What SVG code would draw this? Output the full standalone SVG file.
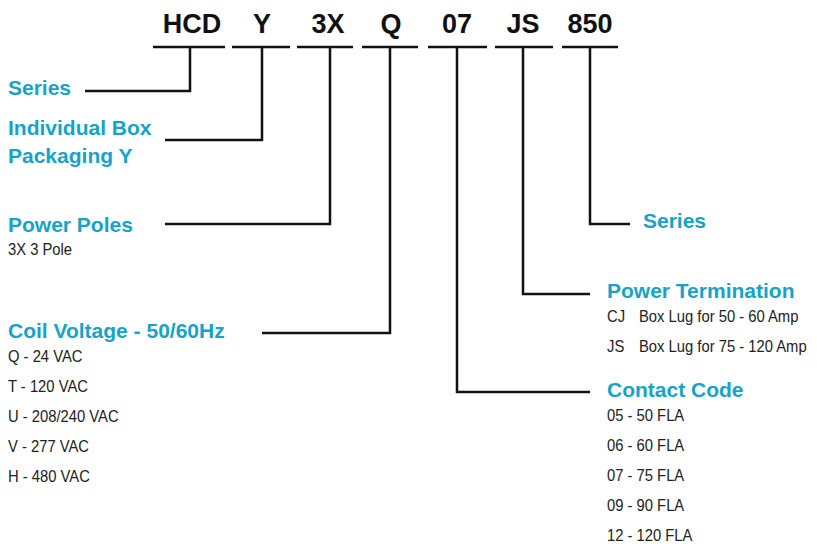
<svg xmlns="http://www.w3.org/2000/svg" width="817" height="544" viewBox="0 0 817 544">
<style>
.code{font-family:"Liberation Sans",Arial,sans-serif;font-weight:bold;font-size:27px;fill:#111;text-anchor:middle}
.head{font-family:"Liberation Sans",Arial,sans-serif;font-weight:bold;font-size:21px;fill:#16a3c9}
.item{font-family:"Liberation Sans",Arial,sans-serif;font-size:17px;fill:#222}
.ln{stroke:#111;stroke-width:2.5;fill:none}
</style>
<rect width="817" height="544" fill="#fff"/>
<g id="codes">
<text class="code" x="192" y="33">HCD</text>
<text class="code" x="262" y="33">Y</text>
<text class="code" x="328" y="33">3X</text>
<text class="code" x="391" y="33">Q</text>
<text class="code" x="457" y="33">07</text>
<text class="code" x="523" y="33">JS</text>
<text class="code" x="590" y="33">850</text>
</g>
<g id="connectors" class="ln">
<path d="M153 47H225M232 47H290M297 47H353M362 47H418M428 47H487M495 47H553M562 47H618"/>
<polyline points="85,91 190,91 190,47"/>
<polyline points="165,140 262,140 262,47"/>
<polyline points="165,224 330,224 330,47"/>
<polyline points="262,333 390,333 390,47"/>
<polyline points="630,224 590,224 590,47"/>
<polyline points="590,294 523,294 523,47"/>
<polyline points="590,392 457,392 457,47"/>
</g>
<g id="node-series">
<text class="head" x="8" y="95">Series</text>
</g>
<g id="node-packaging">
<text class="head" x="8" y="135">Individual Box</text>
<text class="head" x="8" y="163">Packaging Y</text>
</g>
<g id="node-poles">
<text class="head" x="8" y="232">Power Poles</text>
<g transform="translate(8 255) scale(0.87 1)"><text class="item">3X 3 Pole</text></g>
</g>
<g id="node-coil">
<text class="head" x="8" y="338">Coil Voltage - 50/60Hz</text>
<g transform="translate(8 0) scale(0.87 1)">
<text class="item" y="362">Q - 24 VAC</text>
<text class="item" y="392">T - 120 VAC</text>
<text class="item" y="422">U - 208/240 VAC</text>
<text class="item" y="452">V - 277 VAC</text>
<text class="item" y="482">H - 480 VAC</text>
</g>
</g>
<g id="node-series2">
<text class="head" x="643" y="228">Series</text>
</g>
<g id="node-termination">
<text class="head" x="607" y="298">Power Termination</text>
<g transform="translate(607 0) scale(0.87 1)">
<text class="item" y="322">CJ</text>
<text class="item" y="352">JS</text>
</g>
<g transform="translate(639 0) scale(0.87 1)">
<text class="item" y="322">Box Lug for 50 - 60 Amp</text>
<text class="item" y="352">Box Lug for 75 - 120 Amp</text>
</g>
</g>
<g id="node-contact">
<text class="head" x="607" y="397">Contact Code</text>
<g transform="translate(607 0) scale(0.87 1)">
<text class="item" y="421">05 - 50 FLA</text>
<text class="item" y="451">06 - 60 FLA</text>
<text class="item" y="481">07 - 75 FLA</text>
<text class="item" y="511">09 - 90 FLA</text>
<text class="item" y="541">12 - 120 FLA</text>
</g>
</g>
</svg>
